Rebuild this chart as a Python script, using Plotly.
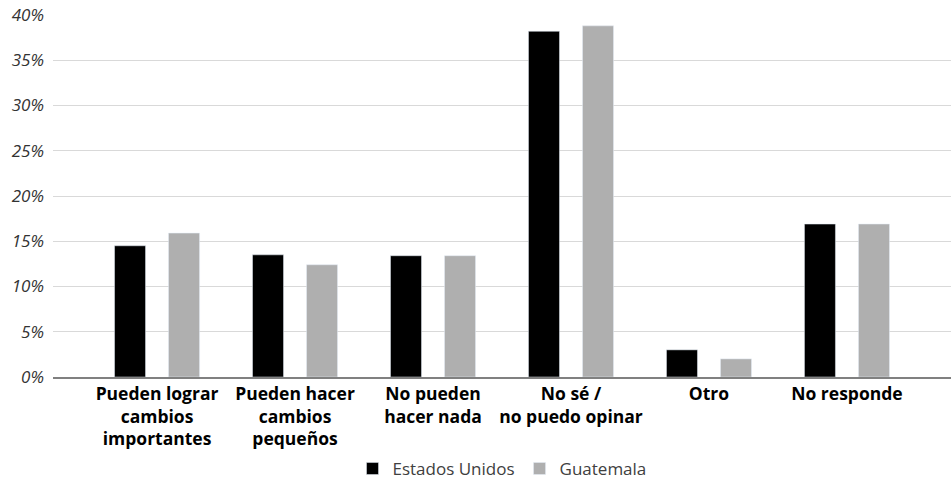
import plotly.graph_objects as go

categorias = ["Pueden lograr<br>cambios<br>importantes", "Pueden hacer<br>cambios<br>pequeños",
              "No pueden<br>hacer nada", "No sé /<br>no puedo opinar", "Otro", "No responde"]
estados_unidos = [14.5, 13.5, 13.4, 38.2, 3.0, 16.9]
guatemala = [15.9, 12.4, 13.4, 38.8, 2.0, 16.9]
y_ticks = [0, 5, 10, 15, 20, 25, 30, 35, 40]

fig = go.Figure()
fig.add_trace(go.Bar(x=categorias, y=estados_unidos, name="Estados Unidos", marker_color="#000000"))
fig.add_trace(go.Bar(x=categorias, y=guatemala, name="Guatemala", marker_color="#afafaf"))

fig.update_layout(
    width=951, height=481,
    margin=dict(l=53, r=0, t=15, b=104, autoexpand=False),
    plot_bgcolor="white", paper_bgcolor="white",
    font=dict(family="Open Sans", size=17, color="#000000"),
    barmode="group", bargap=0.217, bargroupgap=0.426,
    legend=dict(orientation="h", x=0.5, xanchor="center", yref="container", y=0.025, yanchor="middle",
                font=dict(size=17, color="#404040"), itemwidth=30),
)
fig.update_yaxes(
    range=[0, 40], tickvals=y_ticks, ticktext=[f"{v}%" for v in y_ticks],
    showgrid=True, gridcolor="#d9d9d9", gridwidth=1, zeroline=False, automargin=False,
    tickfont=dict(size=17, color="#333333", style="italic"), ticks="", ticklabelstandoff=8,
)
fig.update_xaxes(
    range=[-0.754, 5.754], automargin=False,
    showline=True, linecolor="#808080", linewidth=1.5,
    tickfont=dict(size=17.5, color="#000000", weight="bold"),
)

# quitar el margen del body para que el gráfico quede en 0,0
fig.write_html("out.html", config={"displayModeBar": False},
               post_script="document.body.style.margin='0';document.body.style.overflow='hidden';")
